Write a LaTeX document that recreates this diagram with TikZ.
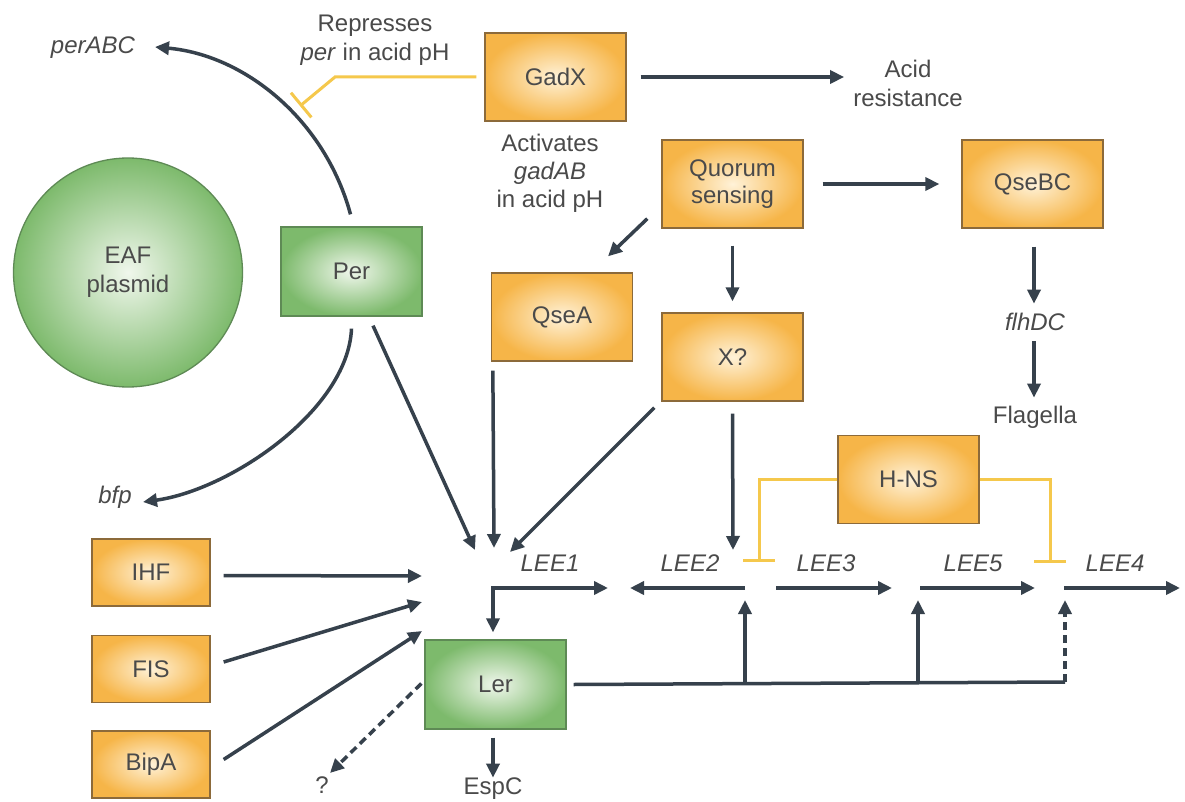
\documentclass[tikz,border=0pt]{standalone}
\usepackage{fontspec}
\setmainfont{Liberation Sans}
\usetikzlibrary{arrows.meta,calc}
\definecolor{dk}{HTML}{36414C}
\definecolor{tx}{HTML}{4A4A4A}
\definecolor{oin}{HTML}{FFF2D8}
\definecolor{oout}{HTML}{F6B548}
\definecolor{obr}{HTML}{8C6A3A}
\definecolor{gin}{HTML}{F0F7EC}
\definecolor{gout}{HTML}{7DBA6C}
\definecolor{gbr}{HTML}{5E8A55}
\definecolor{yl}{HTML}{F5C84C}
\begin{document}
\begin{tikzpicture}[x=1pt,y=-1pt,
  every node/.style={text=tx,font=\fontsize{24}{28}\selectfont},
  obox/.style={rectangle,draw=obr,line width=1.3pt,minimum width=141pt,minimum height=88pt,inner color=oin,outer color=oout,align=center},
  sbox/.style={obox,minimum width=118pt,minimum height=67pt},
  gbox/.style={rectangle,draw=gbr,line width=1.3pt,minimum width=141pt,minimum height=89pt,inner color=gin,outer color=gout,align=center},
  lbl/.style={inner sep=0pt,align=center},
  arr/.style={draw=dk,line width=3.5pt,-{Triangle[length=14pt,width=13pt]}},
  darr/.style={arr,dash pattern=on 8pt off 5pt},
  dline/.style={draw=dk,line width=3.5pt},
  yline/.style={draw=yl,line width=3pt},
  ybar/.style={yline,-{Bar[width=32pt,line width=3pt]}}
]
\useasboundingbox (0,0) rectangle (1185,802);
\fill[white] (0,0) rectangle (1185,802);

% boxes
\node[obox] (gadx) at (555.5,77) {GadX};
\node[obox] (qs) at (732.5,184) {Quorum\\[-1pt]sensing};
\node[obox] (qsebc) at (1032.5,184) {QseBC};
\node[obox] (qsea) at (562,317) {QseA};
\node[obox] (xq) at (732.5,357) {X?};
\node[obox] (hns) at (908.5,479.5) {H-NS};
\node[gbox] (per) at (351.5,271.5) {Per};
\node[gbox] (ler) at (495.5,684.5) {Ler};
\node[sbox] (ihf) at (151,572.5) {IHF};
\node[sbox] (fis) at (151,669) {FIS};
\node[sbox] (bipa) at (151,764.5) {BipA};
\node[circle,draw=gbr,line width=1.3pt,minimum size=229pt,inner color=gin,outer color=gout,align=center] (eaf) at (128,272.5) {EAF\\[1pt]plasmid};

% labels
\node[lbl] (perabc) at (93,48) {\itshape perABC};
\node[lbl] (rep) at (375,40) {Represses\\[1pt]\textit{per} in acid pH};
\node[lbl] (acid) at (908,83) {Acid\\[1pt]resistance};
\node[lbl] (act) at (550,173) {Activates\\\textit{gadAB}\\in acid pH};
\node[lbl] (flhdc) at (1035,322) {\itshape flhDC};
\node[lbl] (flag) at (1035,417) {Flagella};
\node[lbl] (bfp) at (115,497) {\itshape bfp};
\node[lbl] (espc) at (493,789) {EspC};
\node[lbl] (qm) at (322,785) {?};
\node[lbl] (lee1) at (550,563) {\itshape LEE1};
\node[lbl] (lee2) at (690,563) {\itshape LEE2};
\node[lbl] (lee3) at (826,563) {\itshape LEE3};
\node[lbl] (lee5) at (973,563) {\itshape LEE5};
\node[lbl] (lee4) at (1115,563) {\itshape LEE4};

% coordinates
\coordinate (tPA) at (155,47);
\coordinate (tBF) at (143,502);
\coordinate (tPer) at (475,550);
\coordinate (tQA) at (494,548);
\coordinate (tX) at (510,552);
\coordinate (tI) at (422,576);
\coordinate (tF) at (422,602);
\coordinate (tB) at (422,631);
\coordinate (t2) at (733,550);
\coordinate (p1) at (493,588);
\coordinate (e1) at (608,588);
\coordinate (p2) at (745,588);
\coordinate (e2) at (630,588);
\coordinate (p3) at (776,588);
\coordinate (e3) at (892,588);
\coordinate (p5) at (920,588);
\coordinate (e5) at (1035,588);
\coordinate (p4) at (1064,588);
\coordinate (e4) at (1180,588);
\coordinate (j2) at (745,682);
\coordinate (j5) at (918,682);
\coordinate (j4) at (1065,682);
\coordinate (tq) at (330,773);
\coordinate (ybend) at (335,77);
\coordinate (ybarpt) at (300,106);
\coordinate (b2) at (759,562);
\coordinate (b4) at (1050,563);

% yellow repression lines
\draw[ybar] ([xshift=-8pt]gadx.west) -- (ybend) -- (ybarpt);
\draw[ybar] (hns.west) -| (b2);
\draw[ybar] (hns.east) -| (b4);

% dark arrows
\draw[arr] ($(per.north)+(-1,-12)$) .. controls (325,120) and (245,55) .. (tPA);
\draw[arr] ($(per.south)+(0,12)$) .. controls (348,410) and (230,490) .. (tBF);
\draw[arr] ($(per.south)+(21.5,9)$) -- (tPer);
\draw[arr] ($(qsea.south west)+(2,9)$) -- (tQA);
\draw[arr] ($(xq.south west)+(-7,6)$) -- (tX);
\draw[arr] ($(xq.south)+(0,12)$) -- (t2);
\draw[arr] ($(ihf.east)+(13,3)$) -- (tI);
\draw[arr] ($(fis.east)+(13,-7)$) -- (tF);
\draw[arr] ($(bipa.east)+(13,-5)$) -- (tB);

\draw[arr] ($(gadx.east)+(14,0)$) -- ($(gadx.east -| acid.west)+(-9,0)$);
\draw[arr] ($(qs.east)+(19,0)$) -- ($(qsebc.west)+(-22,0)$);
\draw[arr] ($(qs.south west)+(-14,-10)$) -- ($(qsea.north)+(46,-16)$);
\draw[arr] ($(qs.south)+(0,17)$) -- ($(xq.north)+(0,-11)$);
\draw[arr] ($(qsebc.south)+(1.5,18)$) -- ($(qsebc.south)+(1.5,75)$);
\draw[arr] ($(flhdc.south)+(-1,10)$) -- ($(flag.north)+(-1,-8)$);

% LEE operons
\draw[draw=dk,line width=3.5pt,{Triangle[length=14pt,width=13pt]}-{Triangle[length=14pt,width=13pt]}]
  ($(p1 |- ler.north)+(0,-7)$) -- (p1) -- (e1);
\draw[arr] (p2) -- (e2);
\draw[arr] (p3) -- (e3);
\draw[arr] (p5) -- (e5);
\draw[arr] (p4) -- (e4);

% Ler outputs
\draw[dline] ([xshift=7pt]ler.east) -- (j4);
\draw[arr] (j2) -- ($(p2)+(0,12)$);
\draw[arr] (j5) -- ($(p5)+(-2,12)$);
\draw[darr] (j4) -- ($(p4)+(1,12)$);
\draw[arr] ($(ler.south)+(-2.5,8)$) -- ($(ler.south)+(-2.5,48)$);
\draw[darr] ($(ler.west)+(-3,-1)$) -- (tq);
\end{tikzpicture}
\end{document}
